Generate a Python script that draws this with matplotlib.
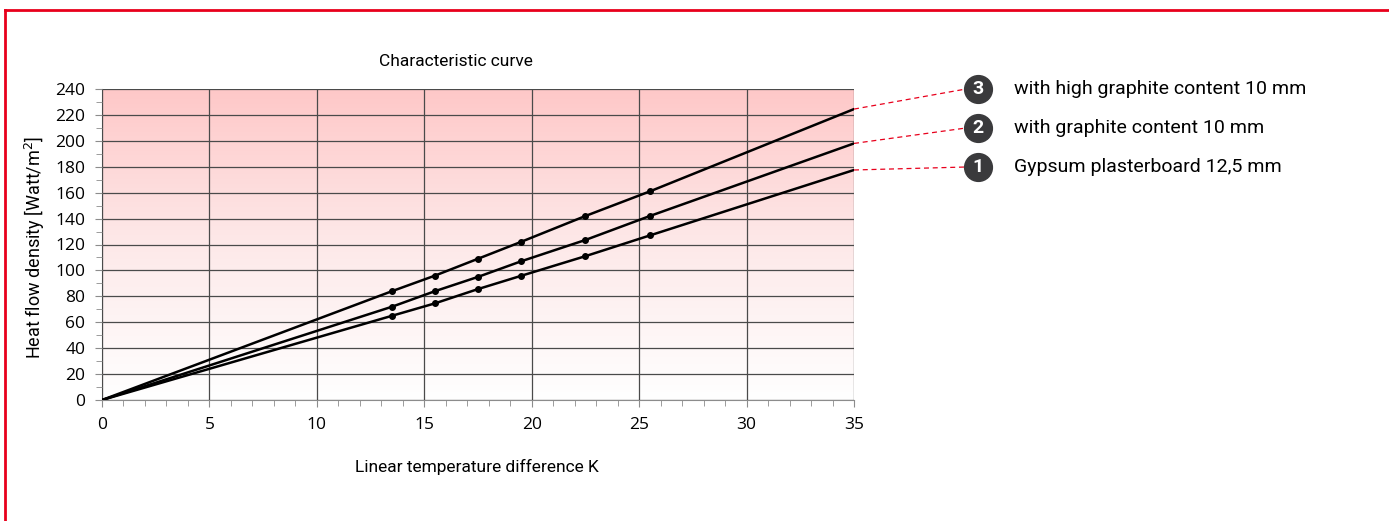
import matplotlib.pyplot as plt
import numpy as np
from matplotlib.colors import LinearSegmentedColormap
from matplotlib.lines import Line2D

# measured points (temperature difference K -> heat flow W/m2)
x_pts = [13.5, 15.5, 17.5, 19.5, 22.5, 25.5]
y_gypsum = [65, 74.6, 85.6, 95.8, 111, 127]
y_graphite = [72, 84, 95, 107, 123.5, 142]
y_high = [84, 96, 109, 122, 142, 161]

# line ends at x = 35
end_x = 35
end_gypsum = 177.5
end_graphite = 198
end_high = 224.5

labels = ["Gypsum plasterboard 12,5 mm",
          "with graphite content 10 mm",
          "with high graphite content 10 mm"]
numbers = ["1", "2", "3"]

label_font = ["Roboto", "DejaVu Sans"]
tick_font = ["Open Sans", "DejaVu Sans"]

W, H = 1389, 521
fig = plt.figure(figsize=(W/100, H/100), dpi=100)
ax = fig.add_axes([102/W, 1-400/H, 752/W, 311/H])

# pink-to-white background
cmap = LinearSegmentedColormap.from_list("pink", ["#ffffff", "#fde9e9", "#ffc8c8"])
grad = np.linspace(0, 1, 256).reshape(-1, 1)
ax.imshow(grad, cmap=cmap, aspect="auto", extent=[0, 35, 0, 240],
          origin="lower", zorder=0)

series = [(y_gypsum, end_gypsum), (y_graphite, end_graphite), (y_high, end_high)]
for ys, ye in series:
    ax.plot([0] + x_pts + [end_x], [0] + ys + [ye], color="black", lw=1.8, zorder=3)
    ax.plot(x_pts, ys, "o", color="black", ms=4, zorder=4)

ax.set_xlim(0, 35)
ax.set_ylim(0, 240)
ax.set_xticks(range(0, 36, 5))
ax.set_xticks(range(0, 36, 1), minor=True)
ax.set_yticks(range(0, 241, 20))
ax.set_yticks(range(0, 241, 10), minor=True)
ax.grid(which="major", color="#4a4a4a", lw=0.9, zorder=1)
ax.set_axisbelow(False)
for s in ["top", "right"]:
    ax.spines[s].set_visible(False)
for s in ["left", "bottom"]:
    ax.spines[s].set_color("#8c8c8c")
ax.tick_params(which="both", direction="out", color="#8c8c8c")
ax.tick_params(which="major", length=5, pad=7)
ax.tick_params(which="minor", length=4)
for t in ax.get_xticklabels() + ax.get_yticklabels():
    t.set_family(tick_font)
    t.set_fontsize(12.5)

fig.text(456/W, 1-61/H, "Characteristic curve", ha="center", va="center",
         family=label_font, fontsize=12.5)
fig.text(477/W, 1-467/H, "Linear temperature difference K", ha="center",
         va="center", family=label_font, fontsize=12.5)
fig.text(35/W, 1-247/H, "Heat flow density [Watt/m$^2$]", ha="center",
         va="center", rotation=90, family=label_font, fontsize=13)

# callouts
ends = [end_gypsum, end_graphite, end_high]
circle_y = [167, 128, 89]
for num, lab, ye, cy in zip(numbers, labels, ends, circle_y):
    x0, y0 = ax.transData.transform((end_x, ye))
    x0 /= W
    y0 /= H
    fy = 1 - cy/H
    fig.add_artist(Line2D([x0, 966/W], [y0, fy], color="#e8001c",
                          lw=0.9, ls=(0, (4, 3))))
    fig.add_artist(Line2D([978/W], [fy], marker="o", ms=20, color="#3a3a3c",
                          mec="#3a3a3c", ls=""))
    fig.text(978/W, fy, num, ha="center", va="center", color="white",
             fontweight="bold", fontsize=14, family=label_font)
    fig.text(1014/W, fy, lab, ha="left", va="center", fontsize=14,
             family=label_font)

# red frame
fig.add_artist(Line2D([5/W, 1], [1-10/H, 1-10/H], color="#e8001c", lw=2))
fig.add_artist(Line2D([5/W, 5/W], [0, 1-10/H], color="#e8001c", lw=2))

fig.savefig("out.png", dpi=100)
